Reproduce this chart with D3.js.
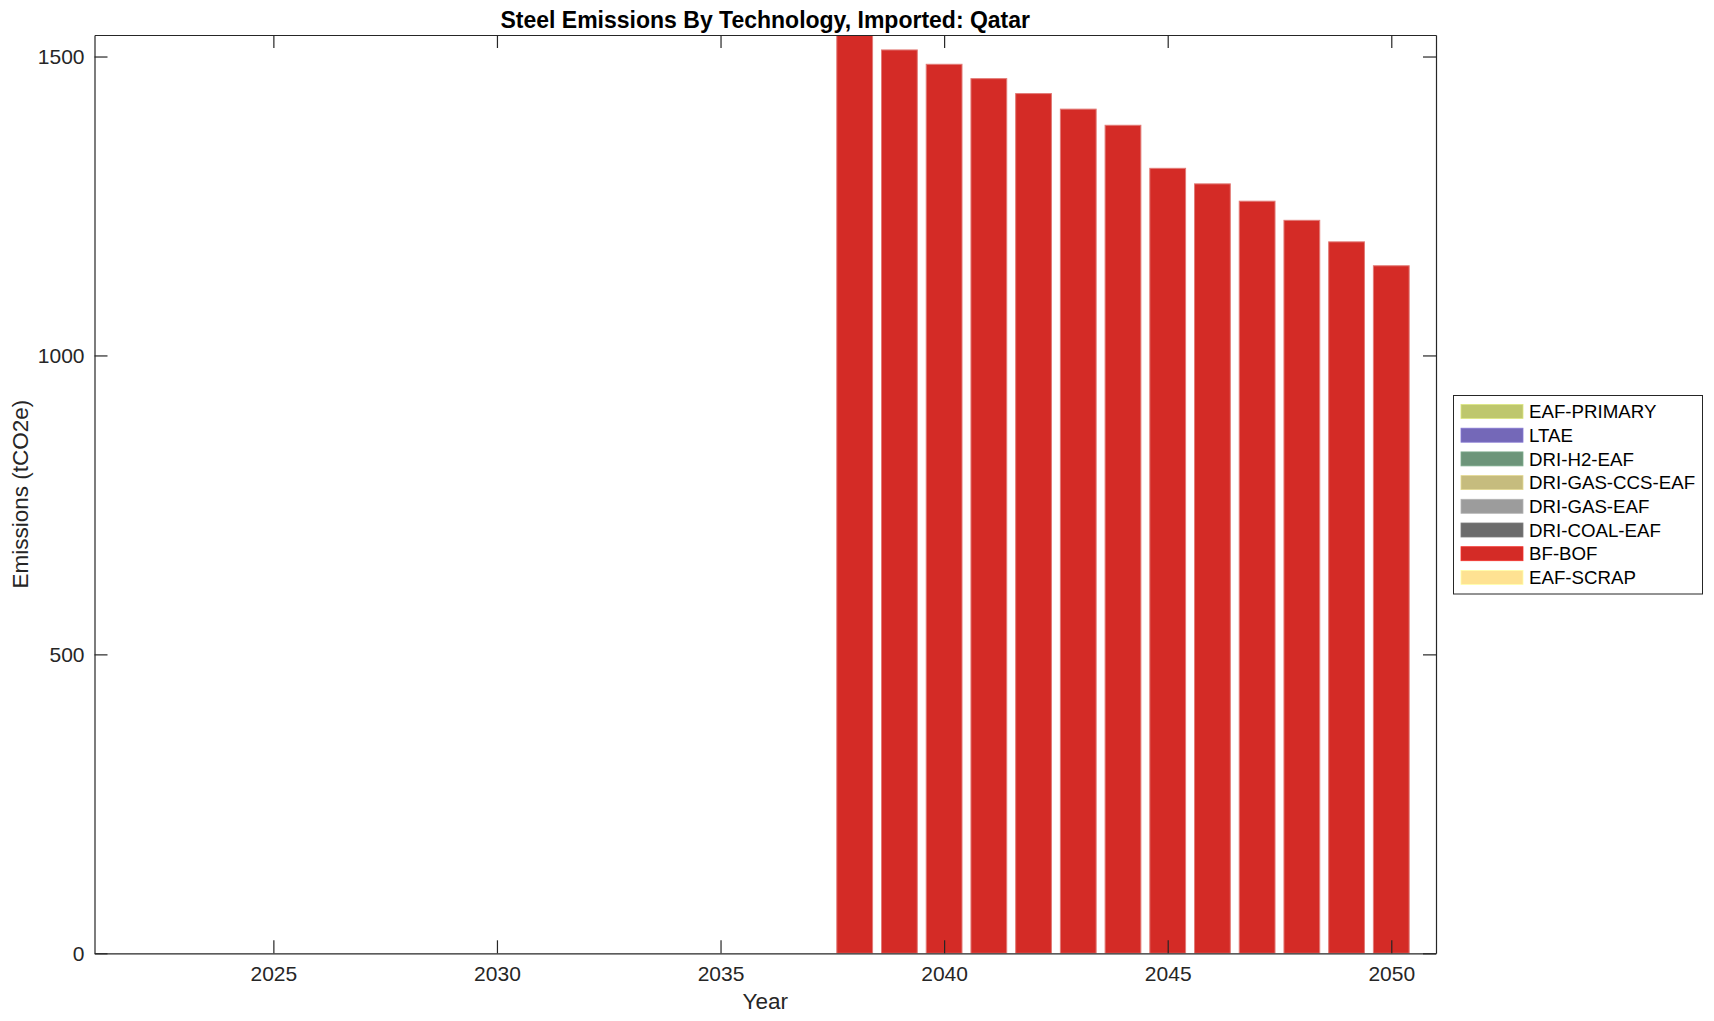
<!DOCTYPE html>
<html>
<head>
<meta charset="utf-8">
<script src="https://cdn.jsdelivr.net/npm/d3@7/dist/d3.min.js"></script>
<style>
  html, body { margin: 0; padding: 0; background: #fff; }
  svg text { font-family: "Liberation Sans", Arial, Helvetica, sans-serif; }
</style>
</head>
<body>
<svg id="chart" width="1714" height="1021"></svg>
<script>
// ---- data ----
const years = d3.range(2022, 2051);
const technologies = ["EAF-PRIMARY", "LTAE", "DRI-H2-EAF", "DRI-GAS-CCS-EAF", "DRI-GAS-EAF", "DRI-COAL-EAF", "BF-BOF", "EAF-SCRAP"];
const techColors = ["#bec76d", "#7468b8", "#6d957a", "#c6bc7e", "#9c9c9c", "#6c6c6c", "#d42b26", "#fee292"];
const zeros = years.map(() => 0);
const eafPrimary = zeros.slice();
const ltae = zeros.slice();
const driH2Eaf = zeros.slice();
const driGasCcsEaf = zeros.slice();
const driGasEaf = zeros.slice();
const driCoalEaf = zeros.slice();
// BF-BOF, 2022..2050
const bfBof = [0, 0, 0, 0, 0, 0, 0, 0, 0, 0, 0, 0, 0, 0, 0, 0,
  1536, 1511, 1487, 1463, 1438, 1412, 1385, 1313, 1287, 1258, 1226, 1190, 1150];
const eafScrap = zeros.slice();
const xTicks = [2025, 2030, 2035, 2040, 2045, 2050];
const yTicks = [0, 500, 1000, 1500];
const xDomain = [2021, 2051];
const yDomain = [0, 1536];
const titleText = "Steel Emissions By Technology, Imported: Qatar";
const xLabel = "Year";
const yLabel = "Emissions (tCO2e)";

// stack order (bottom -> top): EAF-SCRAP, BF-BOF, DRI-COAL-EAF, ... , EAF-PRIMARY
const seriesValues = {
  "EAF-PRIMARY": eafPrimary, "LTAE": ltae, "DRI-H2-EAF": driH2Eaf,
  "DRI-GAS-CCS-EAF": driGasCcsEaf, "DRI-GAS-EAF": driGasEaf,
  "DRI-COAL-EAF": driCoalEaf, "BF-BOF": bfBof, "EAF-SCRAP": eafScrap
};
const stackKeys = technologies.slice().reverse();
const table = years.map((y, i) => {
  const row = { year: y };
  technologies.forEach(t => row[t] = seriesValues[t][i]);
  return row;
});
const color = d3.scaleOrdinal(technologies, techColors);

// ---- layout ----
const svg = d3.select("#chart");
const L = 94.5, R = 1436, T = 35, B = 953.3;
const x = d3.scaleLinear().domain(xDomain).range([L, R]);
const y = d3.scaleLinear().domain(yDomain).range([B, T]);
const barW = x(xDomain[0] + 0.8) - x(xDomain[0]);
const axisColor = "#262626";

const stacked = d3.stack().keys(stackKeys)(table);
svg.append("clipPath").attr("id", "plotclip")
  .append("rect").attr("x", L).attr("y", T).attr("width", R - L).attr("height", B - T);

const barsG = svg.append("g").attr("clip-path", "url(#plotclip)");
stacked.forEach(layer => {
  barsG.append("g").selectAll("rect")
    .data(layer.filter(d => d[1] - d[0] > 0))
    .join("rect")
    .attr("x", d => x(d.data.year) - barW / 2)
    .attr("width", barW)
    .attr("y", d => y(d[1]))
    .attr("height", d => y(d[0]) - y(d[1]))
    .attr("fill", color(layer.key))
    .attr("stroke", "#e27a76")
    .attr("stroke-width", 1);
});

// axes (box with ticks on all sides, pointing inward)
const tickLen = 13;
const axG = svg.append("g");
const xb = d3.axisBottom(x).tickValues(xTicks).tickFormat(d3.format("d")).tickSizeInner(-tickLen).tickSizeOuter(0);
const xt = d3.axisTop(x).tickValues(xTicks).tickFormat("").tickSizeInner(-tickLen).tickSizeOuter(0);
const yl = d3.axisLeft(y).tickValues(yTicks).tickFormat(d3.format("d")).tickSizeInner(-tickLen).tickSizeOuter(0);
const yr = d3.axisRight(y).tickValues(yTicks).tickFormat("").tickSizeInner(-tickLen).tickSizeOuter(0);

const gxb = axG.append("g").attr("transform", `translate(0,${B})`).call(xb);
const gxt = axG.append("g").attr("transform", `translate(0,${T})`).call(xt);
const gyl = axG.append("g").attr("transform", `translate(${L},0)`).call(yl);
const gyr = axG.append("g").attr("transform", `translate(${R},0)`).call(yr);
[gxb, gxt, gyl, gyr].forEach(g => {
  g.select(".domain").attr("stroke", axisColor).attr("stroke-width", 1.2);
  g.selectAll(".tick line").attr("stroke", axisColor).attr("stroke-width", 1.2);
  g.selectAll(".tick text").attr("fill", axisColor).style("font-size", "21px")
    .style("font-family", "'Liberation Sans', Arial, sans-serif");
});
gxb.selectAll(".tick text").attr("dy", "0.71em").attr("y", 12.5);
gyl.selectAll(".tick text").attr("x", -10);

// title & labels
svg.append("text").attr("x", (L + R) / 2).attr("y", 27.5).attr("text-anchor", "middle")
  .style("font-size", "23px").style("font-weight", "bold").attr("fill", "#000").text(titleText);
svg.append("text").attr("x", (L + R) / 2).attr("y", 1009).attr("text-anchor", "middle")
  .style("font-size", "22.5px").attr("fill", axisColor).text(xLabel);
svg.append("text").attr("transform", `translate(28,${(T + B) / 2}) rotate(-90)`).attr("text-anchor", "middle")
  .style("font-size", "22.5px").attr("fill", axisColor).text(yLabel);

// legend
const lg = svg.append("g");
lg.append("rect").attr("x", 1453.5).attr("y", 395.5).attr("width", 249).attr("height", 198.5)
  .attr("fill", "#fff").attr("stroke", axisColor).attr("stroke-width", 1);
technologies.forEach((t, i) => {
  const cy = 411.5 + i * 23.7;
  lg.append("rect").attr("x", 1461).attr("y", cy - 7).attr("width", 62).attr("height", 14)
    .attr("fill", color(t)).attr("stroke", d3.color(color(t)).brighter(0.4)).attr("stroke-width", 0.8);
  lg.append("text").attr("x", 1529).attr("y", cy).attr("dy", "0.36em")
    .style("font-size", "18.7px").attr("fill", "#000").text(t);
});
</script>
</body>
</html>
